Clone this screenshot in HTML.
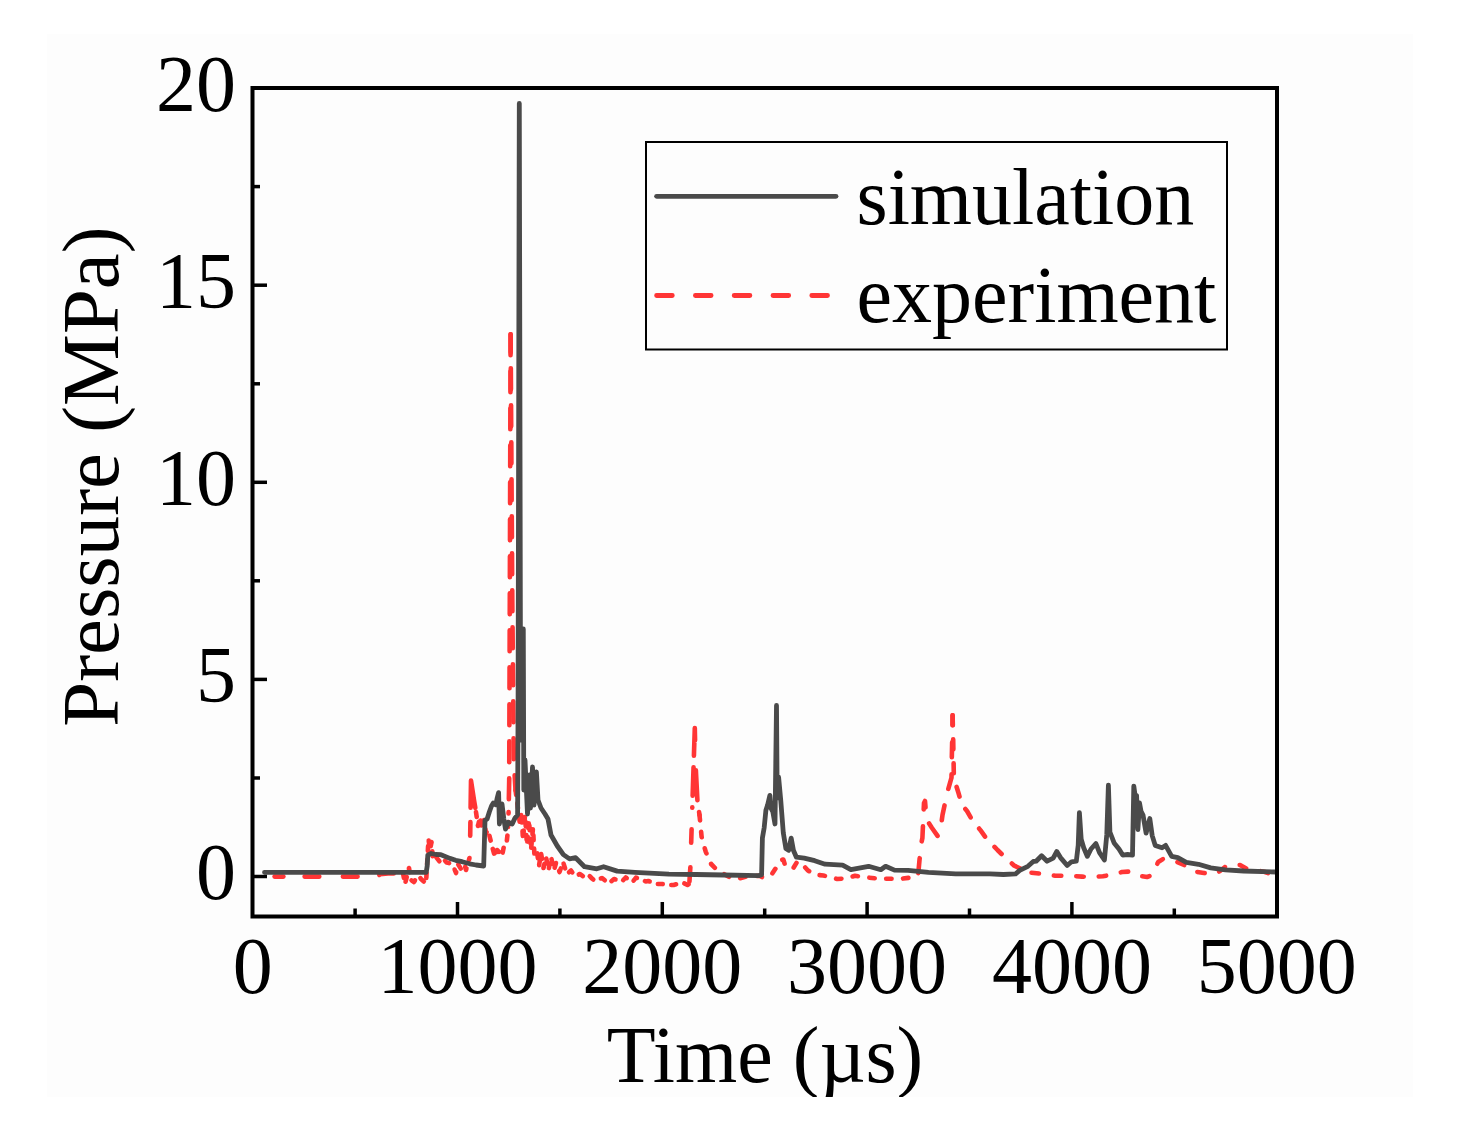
<!DOCTYPE html>
<html><head><meta charset="utf-8"><style>
html,body{margin:0;padding:0;background:#fff;}
body{width:1469px;height:1148px;overflow:hidden;position:relative;}
svg{position:absolute;left:0;top:0;}
text{font-family:"Liberation Serif",serif;font-size:80px;fill:#000;}
</style></head><body>
<svg width="1469" height="1148" viewBox="0 0 1469 1148">
<defs><clipPath id="bg"><rect x="47" y="34" width="1366" height="1063"/></clipPath>
<clipPath id="plot"><rect x="254" y="89" width="1022" height="826"/></clipPath></defs>
<rect x="47" y="34" width="1366" height="1063" fill="#fdfdfd"/>
<g clip-path="url(#plot)" fill="none" stroke-linejoin="round" stroke-linecap="round">
<g stroke="#ff3535" stroke-width="4.6">
<path d="M304.6 876.6 L370.0 876.6 L374.7 878.8 L380.0 874.3 L388.0 873.5 L398.0 873.5 L403.0 873.0" stroke-dasharray="14.7 23.6"/>
<path d="M403.0 873.0 L405.0 884.0 L407.0 876.0 L409.0 868.0 L411.0 880.0 L414.0 882.0 L417.0 877.0 L419.0 876.0 L421.0 879.0 L426.0 883.5 L427.0 866.0 L428.5 839.0 L430.0 850.0 L431.5 842.0 L433.0 860.0 L436.0 857.0 L440.0 862.0 L443.0 858.5 L446.6 862.5 L449.0 863.0 L454.0 868.0 L456.0 873.0 L458.0 864.0 L461.0 869.0 L464.6 864.5 L466.0 870.0 L469.5 858.0" stroke-dasharray="4.9 8.6"/>
<path d="M470.2 835.7 L471.0 780.5 L474.0 800.0 L476.0 812.0" stroke-dasharray="13.7 14.3 55 100"/>
<path d="M476.0 812.0 L478.0 826.0 L480.0 817.0 L482.0 829.0 L484.0 820.0 L486.0 833.0 L488.0 830.0 L490.0 838.0 L492.0 846.0 L495.0 857.0 L497.0 850.0 L500.0 853.0 L502.0 856.0 L504.0 846.0 L506.5 844.0 L508.0 830.0 L508.6 812.0" stroke-dasharray="4.9 8.6"/>
<path d="M510.6 334.3 L509.8 600.0 L509.2 780.0 L508.6 812.0" stroke-dasharray="21 16"/>
<path d="M510.6 334.3 L512.3 600.0 L513.8 760.0 L515.5 790.0" stroke-dasharray="21 16" stroke-dashoffset="3"/>
<path d="M515.5 790.0 L518.5 812.0 L520.0 825.0 L521.5 812.0 L523.0 840.0 L525.0 815.0 L527.0 845.0 L529.0 820.0 L531.0 850.0 L533.0 828.0 L534.5 856.0 L537.0 852.0 L539.0 866.0 L541.0 853.0 L543.5 868.0 L546.0 857.0 L548.5 870.0 L551.0 857.0 L554.0 870.0 L556.0 863.0 L559.5 872.0 L563.0 862.0 L567.0 874.0 L571.0 870.5 L575.0 876.0 L580.0 874.0 L584.0 877.0 L588.0 874.5 L592.0 878.5 L595.0 881.0 L602.0 878.0 L608.6 883.5 L614.0 879.0 L621.8 881.5 L625.7 877.5 L632.5 882.0 L636.0 877.6 L645.7 881.4 L648.3 881.0 L657.5 884.0 L662.2 884.0 L670.0 885.0 L673.6 885.0 L682.6 882.6 L687.5 885.0 L689.3 884.0" stroke-dasharray="4.9 8.6"/>
<path d="M689.3 884.0 L690.5 865.0 L692.5 800.0 L694.8 728.0 L695.6 765.0 L697.4 800.0 L699.5 815.0" stroke-dasharray="14.4 24.6 13.4 21.6 0.4 11.6 28.4 11.6 40 30 30 12 18 100" stroke-dashoffset="-2.3"/>
<path d="M699.5 815.0 L701.6 836.8 L705.7 851.7 L711.1 864.0 L717.9 870.8 L724.0 874.0 L730.2 877.6 L739.7 878.3 L750.6 875.6 L760.0 876.0 L762.4 877.3 L772.0 874.0 L777.2 866.0 L781.6 860.0 L783.3 859.5 L785.0 865.0 L793.0 868.6 L797.0 862.0 L800.7 862.5 L807.7 870.3 L814.7 874.7 L823.4 875.5 L837.3 879.0 L846.8 878.3 L855.0 875.8 L864.5 877.2 L880.8 878.8 L901.3 878.8 L913.5 877.2 L918.3 873.1" stroke-dasharray="5.4 11.5"/>
<path d="M918.3 873.1 L919.5 860.0 L921.0 845.0 L922.4 838.0 L924.0 803.0 L925.0 801.0 L926.5 819.5 L932.0 828.0 L937.6 836.0 L940.0 833.5 L942.5 815.0 L944.6 805.0 L948.0 790.0 L951.5 777.7 L951.8 758.0 L952.3 735.0 L952.6 715.3" stroke-dasharray="15 17"/>
<path d="M952.6 715.3 L953.2 740.0 L953.8 773.6 L956.0 785.0 L958.5 793.0 L962.0 805.0 L967.0 811.0 L971.0 818.0 L980.8 830.7 L986.0 838.0 L997.5 850.0 L1005.7 858.0 L1014.3 865.7 L1024.8 870.5 L1031.5 872.8" stroke-dasharray="10 14"/>
<path d="M1031.5 872.8 L1043.8 874.0 L1055.3 875.8 L1068.6 875.8 L1082.0 876.6 L1091.5 877.2 L1102.9 876.2 L1114.4 874.3 L1122.0 872.0 L1129.6 871.5 L1140.0 876.0 L1147.0 877.0 L1151.5 875.3 L1158.2 862.0 L1163.0 859.0 L1170.0 859.5 L1176.0 861.5 L1184.0 864.8 L1194.4 871.5 L1204.0 873.0 L1214.4 874.0 L1220.0 871.0 L1225.0 867.0 L1233.5 864.5 L1240.0 865.0 L1247.8 869.5 L1255.0 870.0 L1265.0 872.0 L1274.5 875.3 L1277.0 875.5" stroke-dasharray="7.5 15"/>
</g>
<line x1="274.6" y1="876.6" x2="283.4" y2="876.6" stroke="#ff3535" stroke-width="4.6"/>
<path d="M264.5 872.3 L300.0 872.3 L400.0 872.3 L426.2 872.3 L427.2 866.0 L427.8 855.1 L431.1 853.5 L436.0 854.5 L440.9 854.7 L449.9 858.4 L455.7 860.3 L462.1 861.7 L469.7 863.8 L476.0 865.0 L483.7 866.0 L485.0 820.5 L487.2 818.8 L489.4 811.8 L491.5 806.0 L493.3 803.1 L495.9 804.8 L497.2 798.0 L498.6 792.6 L499.4 824.0 L500.8 815.0 L502.0 804.0 L503.8 818.8 L505.5 829.2 L508.1 822.3 L512.2 824.0 L515.0 818.0 L517.6 815.0 L518.1 700.0 L519.3 103.5 L520.4 629.0 L521.2 740.0 L523.3 629.0 L523.8 790.0 L525.0 760.0 L527.5 814.0 L529.5 775.0 L530.5 808.0 L532.5 767.0 L534.0 805.0 L536.4 772.0 L538.0 800.0 L541.0 808.0 L545.0 814.0 L548.0 819.0 L551.0 835.0 L557.3 846.0 L563.4 854.6 L569.5 858.9 L575.6 857.7 L584.5 866.7 L596.8 868.8 L603.6 866.7 L617.2 871.1 L634.9 872.4 L668.9 874.2 L696.1 874.5 L723.4 875.0 L758.8 875.6 L761.6 874.7 L762.4 838.0 L764.2 827.6 L765.9 810.2 L767.6 805.0 L769.9 795.4 L771.1 808.5 L772.9 812.0 L775.0 824.0 L776.5 705.5 L777.2 798.0 L778.6 777.1 L780.7 799.8 L783.3 832.9 L785.9 848.5 L788.6 850.3 L791.2 838.1 L793.4 850.3 L796.4 857.2 L804.2 858.1 L814.7 860.7 L825.1 864.2 L842.6 865.1 L850.9 869.7 L868.6 866.3 L880.8 869.7 L885.6 866.3 L894.5 870.1 L908.1 870.4 L928.5 872.4 L955.7 873.8 L989.8 873.8 L1003.4 874.5 L1015.6 873.8 L1019.7 870.4 L1027.9 866.3 L1033.3 861.5 L1036.1 861.2 L1041.6 855.7 L1047.1 861.2 L1053.2 858.2 L1056.8 851.5 L1060.5 857.6 L1067.2 865.5 L1071.5 861.8 L1076.3 861.2 L1078.2 845.4 L1079.4 812.6 L1081.2 839.3 L1083.7 847.8 L1087.3 856.3 L1091.0 849.0 L1095.9 843.5 L1099.5 852.7 L1104.4 860.0 L1106.8 834.4 L1108.4 785.1 L1109.9 832.0 L1114.1 842.9 L1119.0 849.0 L1122.7 855.1 L1127.6 854.5 L1132.5 855.1 L1133.8 786.1 L1135.3 797.0 L1136.6 795.5 L1137.9 829.5 L1139.5 803.0 L1141.0 811.2 L1143.0 815.0 L1146.1 833.2 L1149.8 818.5 L1152.2 835.6 L1155.2 845.4 L1162.0 847.8 L1165.6 845.4 L1171.7 856.3 L1177.8 857.6 L1186.3 862.4 L1198.5 864.3 L1210.7 867.9 L1225.4 869.8 L1243.7 871.0 L1276.0 872.0" stroke="#4a4a4a" stroke-width="4.8"/>
</g>
<rect x="252.5" y="88" width="1024.5" height="828.5" fill="none" stroke="#000" stroke-width="4"/>
<g stroke="#000" stroke-width="3.5"><line x1="252" y1="876.5" x2="267" y2="876.5"/><line x1="252" y1="679.4" x2="267" y2="679.4"/><line x1="252" y1="482.3" x2="267" y2="482.3"/><line x1="252" y1="285.2" x2="267" y2="285.2"/><line x1="252" y1="88.1" x2="267" y2="88.1"/><line x1="252" y1="778.0" x2="260" y2="778.0"/><line x1="252" y1="580.8" x2="260" y2="580.8"/><line x1="252" y1="383.8" x2="260" y2="383.8"/><line x1="252" y1="186.6" x2="260" y2="186.6"/><line x1="457.5" y1="917" x2="457.5" y2="902"/><line x1="662.3" y1="917" x2="662.3" y2="902"/><line x1="867.1" y1="917" x2="867.1" y2="902"/><line x1="1071.9" y1="917" x2="1071.9" y2="902"/><line x1="355.1" y1="917" x2="355.1" y2="908.5"/><line x1="559.9" y1="917" x2="559.9" y2="908.5"/><line x1="764.7" y1="917" x2="764.7" y2="908.5"/><line x1="969.5" y1="917" x2="969.5" y2="908.5"/><line x1="1174.3" y1="917" x2="1174.3" y2="908.5"/></g>
<text x="236" y="899.2" text-anchor="end">0</text><text x="236" y="702.1" text-anchor="end">5</text><text x="236" y="505.0" text-anchor="end">10</text><text x="236" y="307.9" text-anchor="end">15</text><text x="236" y="110.8" text-anchor="end">20</text>
<text x="252.7" y="992.5" text-anchor="middle">0</text><text x="457.5" y="992.5" text-anchor="middle">1000</text><text x="662.3" y="992.5" text-anchor="middle">2000</text><text x="867.1" y="992.5" text-anchor="middle">3000</text><text x="1071.9" y="992.5" text-anchor="middle">4000</text><text x="1276.7" y="992.5" text-anchor="middle">5000</text>
<g clip-path="url(#bg)">
<text x="765" y="1082.2" text-anchor="middle">Time (µs)</text>
<text transform="translate(118.2,726.8) rotate(-90)" x="0" y="0" style="font-size:80.8px">Pressure (MPa)</text>
</g>
<rect x="646" y="142" width="581" height="207.5" fill="#fdfdfd" stroke="#000" stroke-width="2"/>
<line x1="656.6" y1="196.3" x2="836" y2="196.3" stroke="#4a4a4a" stroke-width="4.8" stroke-linecap="round"/>
<line x1="656.6" y1="295.5" x2="836" y2="295.5" stroke="#ff3535" stroke-width="4.8" stroke-dasharray="15.7 23.1" stroke-linecap="round"/>
<text x="856.5" y="223.5">simulation</text>
<text x="856.5" y="321.5">experiment</text>
</svg>
</body></html>
